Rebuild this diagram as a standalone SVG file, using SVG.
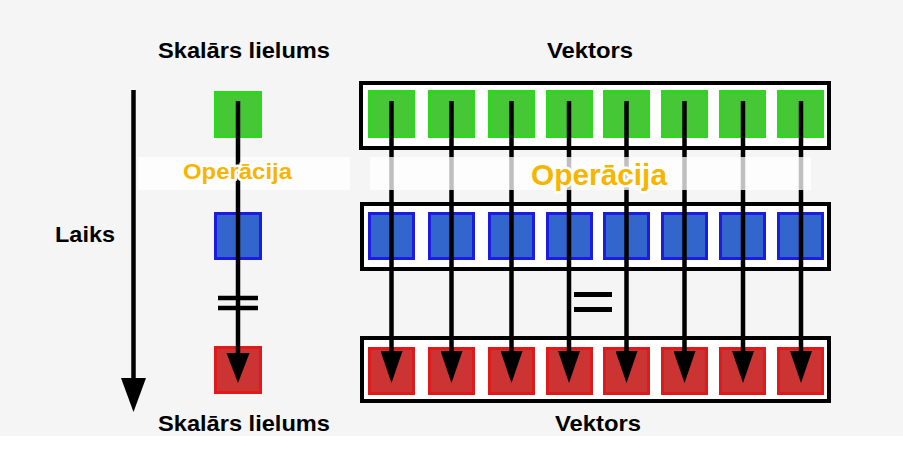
<svg xmlns="http://www.w3.org/2000/svg" width="903" height="455" viewBox="0 0 903 455">
<style>
.lbl{font-family:"Liberation Sans",Arial,sans-serif;font-weight:bold;font-size:22px;fill:#000}
.op{font-family:"Liberation Sans",Arial,sans-serif;font-weight:bold;fill:#f7b500;stroke:#fff;stroke-width:5;stroke-linejoin:round;paint-order:stroke}
.box{fill:#fff;stroke:#000;stroke-width:4}
.g{fill:#46c836;stroke:#2fd620;stroke-width:3}
.b{fill:#3366cc;stroke:#1c1ce0;stroke-width:3}
.r{fill:#cc3333;stroke:#e01a1a;stroke-width:3}
.ln{stroke:#000;stroke-width:4.5;fill:none}
.band{fill:#fff;fill-opacity:0.75}
.eq{stroke:#000;stroke-width:4.5}
</style>
<defs>
<marker id="ah" markerUnits="userSpaceOnUse" viewBox="0 0 32 22" refX="0" refY="11" markerWidth="32" markerHeight="22" orient="auto">
<path d="M0,0 L32,11 L0,22 Z" fill="#000"/>
</marker>
</defs>
<rect x="0" y="0" width="903" height="436" fill="#f5f5f5"/>
<rect x="0" y="436" width="903" height="19" fill="#fff"/>

<text class="lbl" x="158" y="58" textLength="172" lengthAdjust="spacingAndGlyphs">Skalārs lielums</text>
<text class="lbl" x="547" y="58" textLength="86" lengthAdjust="spacingAndGlyphs">Vektors</text>
<text class="lbl" x="55" y="242" textLength="60" lengthAdjust="spacingAndGlyphs">Laiks</text>
<text class="lbl" x="158" y="431" textLength="172" lengthAdjust="spacingAndGlyphs">Skalārs lielums</text>
<text class="lbl" x="555" y="431" textLength="86" lengthAdjust="spacingAndGlyphs">Vektors</text>

<g id="vec-top"><rect class="box" x="361" y="83" width="468" height="65"/>
<rect class="g" x="369.5" y="91.5" width="44" height="45"/><rect class="g" x="429.5" y="91.5" width="44" height="45"/><rect class="g" x="489.5" y="91.5" width="44" height="45"/><rect class="g" x="547.5" y="91.5" width="44" height="45"/><rect class="g" x="604.5" y="91.5" width="44" height="45"/><rect class="g" x="662.5" y="91.5" width="44" height="45"/><rect class="g" x="720.5" y="91.5" width="44" height="45"/><rect class="g" x="778.5" y="91.5" width="44" height="45"/></g>
<g id="vec-mid"><rect class="box" x="362" y="204" width="467" height="65"/>
<rect class="b" x="369.5" y="213.5" width="44" height="45"/><rect class="b" x="429.5" y="213.5" width="44" height="45"/><rect class="b" x="489.5" y="213.5" width="44" height="45"/><rect class="b" x="547.5" y="213.5" width="44" height="45"/><rect class="b" x="604.5" y="213.5" width="44" height="45"/><rect class="b" x="662.5" y="213.5" width="44" height="45"/><rect class="b" x="720.5" y="213.5" width="44" height="45"/><rect class="b" x="778.5" y="213.5" width="44" height="45"/></g>
<g id="vec-bot"><rect class="box" x="362" y="338" width="467" height="63"/>
<rect class="r" x="369.5" y="348.5" width="44" height="45"/><rect class="r" x="429.5" y="348.5" width="44" height="45"/><rect class="r" x="489.5" y="348.5" width="44" height="45"/><rect class="r" x="547.5" y="348.5" width="44" height="45"/><rect class="r" x="604.5" y="348.5" width="44" height="45"/><rect class="r" x="662.5" y="348.5" width="44" height="45"/><rect class="r" x="720.5" y="348.5" width="44" height="45"/><rect class="r" x="778.5" y="348.5" width="44" height="45"/></g>
<g id="scal-top"><rect class="g" x="215.5" y="92.5" width="45" height="44"/></g>
<g id="scal-mid"><rect class="b" x="215.5" y="213.5" width="45" height="45"/></g>
<g id="scal-bot"><rect class="r" x="215.5" y="347.5" width="45" height="45"/></g>

<g id="connectors">
<line class="ln" x1="391.5" y1="101" x2="391.5" y2="351" marker-end="url(#ah)"/>
<line class="ln" x1="451.5" y1="101" x2="451.5" y2="351" marker-end="url(#ah)"/>
<line class="ln" x1="511.5" y1="101" x2="511.5" y2="351" marker-end="url(#ah)"/>
<line class="ln" x1="569" y1="101" x2="569" y2="351" marker-end="url(#ah)"/>
<line class="ln" x1="626.5" y1="101" x2="626.5" y2="351" marker-end="url(#ah)"/>
<line class="ln" x1="684.5" y1="101" x2="684.5" y2="351" marker-end="url(#ah)"/>
<line class="ln" x1="743" y1="101" x2="743" y2="351" marker-end="url(#ah)"/>
<line class="ln" x1="801" y1="101" x2="801" y2="351" marker-end="url(#ah)"/>
</g>
<rect class="band" x="370" y="157" width="441" height="33"/>
<rect class="band" x="138" y="157" width="212" height="33"/>
<g id="scalar-connector">
<line class="ln" x1="238" y1="101" x2="238" y2="353"/>
<path d="M226.5,353 L249.5,353 L238,383 Z" fill="#000"/>
<line class="ln" x1="133.5" y1="90" x2="133.5" y2="380"/>
<path d="M121,378 L146,378 L133.5,412 Z" fill="#000"/>
</g>
<g id="equals">
<line class="eq" x1="218" y1="298" x2="258" y2="298"/>
<line class="eq" x1="218" y1="308" x2="258" y2="308"/>
<line class="eq" x1="574" y1="294.5" x2="612" y2="294.5" style="stroke-width:5"/>
<line class="eq" x1="574" y1="309.5" x2="612" y2="309.5" style="stroke-width:5"/>
</g>
<text class="op" x="183" y="179" font-size="22" textLength="109" lengthAdjust="spacingAndGlyphs">Operācija</text>
<text class="op" x="531" y="185" font-size="30" textLength="136" lengthAdjust="spacingAndGlyphs">Operācija</text>
</svg>
